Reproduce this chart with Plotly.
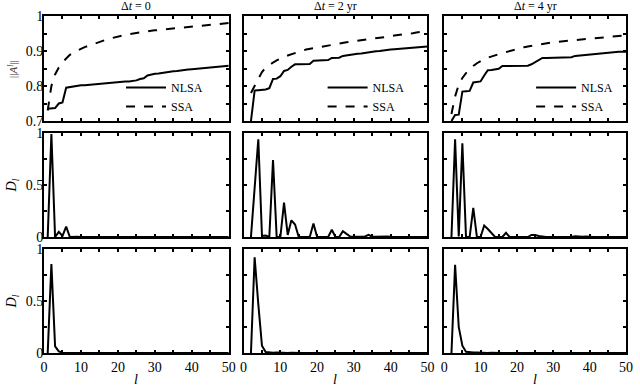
import plotly.graph_objects as go

# ---------------- data ----------------
l_vals = list(range(1, 51))
titles = ["Δ<i>t</i> = 0", "Δ<i>t</i> = 2 yr", "Δ<i>t</i> = 4 yr"]

nlsa_0 = [0.735, 0.737, 0.737, 0.750, 0.753, 0.795, 0.797, 0.799, 0.801, 0.802,
          0.802, 0.803, 0.805, 0.807, 0.808, 0.809, 0.810, 0.811, 0.811, 0.812,
          0.812, 0.813, 0.813, 0.814, 0.816, 0.820, 0.822, 0.830, 0.833, 0.835,
          0.836, 0.838, 0.839, 0.840, 0.842, 0.843, 0.845, 0.846, 0.847, 0.848,
          0.849, 0.850, 0.851, 0.852, 0.853, 0.854, 0.855, 0.856, 0.857, 0.858]
ssa_0 = [0.730, 0.800, 0.833, 0.853, 0.868, 0.880, 0.889, 0.896, 0.902, 0.906,
         0.911, 0.915, 0.919, 0.923, 0.927, 0.930, 0.933, 0.936, 0.939, 0.942,
         0.944, 0.946, 0.948, 0.950, 0.952, 0.953, 0.955, 0.956, 0.958, 0.959,
         0.960, 0.962, 0.963, 0.964, 0.966, 0.967, 0.968, 0.969, 0.970, 0.971,
         0.972, 0.973, 0.974, 0.974, 0.975, 0.976, 0.977, 0.978, 0.979, 0.980]

nlsa_2 = [None, 0.700, 0.787, 0.788, 0.789, 0.790, 0.794, 0.820, 0.821, 0.828,
          0.843, 0.846, 0.855, 0.862, 0.862, 0.862, 0.862, 0.863, 0.872, 0.872,
          0.873, 0.873, 0.874, 0.880, 0.880, 0.881, 0.886, 0.888, 0.889, 0.890,
          0.892, 0.893, 0.895, 0.896, 0.897, 0.899, 0.900, 0.902, 0.903, 0.904,
          0.905, 0.906, 0.907, 0.908, 0.909, 0.910, 0.911, 0.912, 0.913, 0.913]
ssa_2 = [None, 0.780, 0.800, 0.824, 0.840, 0.852, 0.860, 0.867, 0.873, 0.879,
         0.883, 0.887, 0.891, 0.894, 0.898, 0.901, 0.904, 0.906, 0.909, 0.911,
         0.913, 0.915, 0.917, 0.918, 0.920, 0.922, 0.923, 0.925, 0.926, 0.928,
         0.929, 0.931, 0.932, 0.934, 0.935, 0.936, 0.938, 0.939, 0.941, 0.942,
         0.944, 0.945, 0.947, 0.948, 0.950, 0.951, 0.953, 0.954, 0.956, 0.957]

nlsa_4 = [None, 0.700, 0.717, 0.718, 0.784, 0.785, 0.786, 0.810, 0.811, 0.813,
          0.830, 0.845, 0.846, 0.847, 0.849, 0.857, 0.857, 0.857, 0.858, 0.858,
          0.858, 0.858, 0.858, 0.862, 0.868, 0.875, 0.880, 0.880, 0.880, 0.880,
          0.880, 0.880, 0.880, 0.880, 0.882, 0.886, 0.887, 0.888, 0.889, 0.891,
          0.892, 0.894, 0.895, 0.896, 0.897, 0.898, 0.898, 0.898, 0.898, 0.898]
ssa_4 = [None, 0.720, 0.770, 0.804, 0.823, 0.837, 0.848, 0.857, 0.865, 0.872,
         0.877, 0.881, 0.885, 0.888, 0.891, 0.894, 0.897, 0.900, 0.904, 0.906,
         0.908, 0.911, 0.913, 0.915, 0.917, 0.919, 0.920, 0.922, 0.923, 0.925,
         0.926, 0.927, 0.928, 0.929, 0.930, 0.931, 0.933, 0.934, 0.935, 0.936,
         0.936, 0.937, 0.938, 0.939, 0.940, 0.941, 0.942, 0.943, 0.944, 0.945]

d_mid_0 = [0.0, 0.99, 0.0, 0.05, 0.01, 0.10, 0.0, 0.005, 0.003, 0.0,
           0.0, 0.0, 0.005, 0.003, 0.0, 0.0, 0.0, 0.0, 0.0, 0.0,
           0.0, 0.0, 0.0, 0.003, 0.005, 0.002, 0.0, 0.0, 0.0, 0.0,
           0.0, 0.0, 0.0, 0.0, 0.0, 0.0, 0.0, 0.0, 0.0, 0.0,
           0.0, 0.0, 0.0, 0.0, 0.0, 0.0, 0.0, 0.0, 0.0, 0.0]
d_mid_2 = [None, 0.0, 0.47, 0.94, 0.01, 0.015, 0.0, 0.74, 0.0, 0.0,
           0.33, 0.02, 0.16, 0.12, 0.0, 0.0, 0.0, 0.0, 0.13, 0.0,
           0.0, 0.0, 0.0, 0.07, 0.0, 0.0, 0.055, 0.03, 0.005, 0.002,
           0.002, 0.0, 0.005, 0.02, 0.003, 0.002, 0.003, 0.008, 0.005, 0.002,
           0.0, 0.0, 0.003, 0.0, 0.0, 0.0, 0.0, 0.0, 0.0, 0.0]
d_mid_4 = [None, 0.0, 0.94, 0.005, 0.90, 0.0, 0.0, 0.28, 0.0, 0.0,
           0.11, 0.077, 0.04, 0.0, 0.0, 0.0, 0.04, 0.0, 0.0, 0.0,
           0.0, 0.0, 0.0, 0.02, 0.02, 0.01, 0.003, 0.0, 0.0, 0.0,
           0.0, 0.0, 0.0, 0.0, 0.0, 0.008, 0.003, 0.002, 0.004, 0.0,
           0.0, 0.0, 0.0, 0.0, 0.0, 0.0, 0.0, 0.0, 0.0, 0.0]

d_bot_0 = [0.0, 0.856, 0.064, 0.016, 0.003, 0.0, 0.0, 0.0, 0.0, 0.0,
           0.0, 0.0, 0.0, 0.0, 0.0, 0.0, 0.0, 0.0, 0.0, 0.0,
           0.0, 0.0, 0.0, 0.0, 0.0, 0.0, 0.0, 0.0, 0.0, 0.0,
           0.0, 0.0, 0.0, 0.0, 0.0, 0.0, 0.0, 0.0, 0.0, 0.0,
           0.0, 0.0, 0.0, 0.0, 0.0, 0.0, 0.0, 0.0, 0.0, 0.0]
d_bot_2 = [None, 0.0, 0.92, 0.47, 0.07, 0.01, 0.003, 0.003, 0.006, 0.003,
           0.001, 0.001, 0.003, 0.0, 0.0, 0.0, 0.0, 0.0, 0.0, 0.0,
           0.0, 0.0, 0.0, 0.0, 0.0, 0.0, 0.0, 0.0, 0.0, 0.0,
           0.0, 0.0, 0.0, 0.0, 0.0, 0.0, 0.0, 0.0, 0.0, 0.0,
           0.0, 0.0, 0.0, 0.0, 0.0, 0.0, 0.0, 0.0, 0.0, 0.0]
d_bot_4 = [None, 0.0, 0.847, 0.25, 0.07, 0.012, 0.005, 0.005, 0.005, 0.002,
           0.0, 0.0, 0.003, 0.0, 0.0, 0.0, 0.0, 0.0, 0.0, 0.0,
           0.0, 0.0, 0.0, 0.0, 0.0, 0.0, 0.0, 0.0, 0.0, 0.0,
           0.0, 0.0, 0.0, 0.0, 0.0, 0.0, 0.0, 0.0, 0.0, 0.0,
           0.0, 0.0, 0.0, 0.0, 0.0, 0.0, 0.0, 0.0, 0.0, 0.0]

nlsa = [nlsa_0, nlsa_2, nlsa_4]
ssa = [ssa_0, ssa_2, ssa_4]
d_mid = [d_mid_0, d_mid_2, d_mid_4]
d_bot = [d_bot_0, d_bot_2, d_bot_4]

# ---------------- layout geometry ----------------
W, H = 640, 386
L, R, T, B = 44, 7, 16, 33
pw = W - L - R
ph = H - T - B
col_px = [(44, 231), (246, 432), (449, 633)]
row_px = [(16, 121), (133, 237), (249, 353)]

def xdom(c):
    a, b = col_px[c]
    return [(a - L) / pw, (b - L) / pw]

def ydom(r):
    a, b = row_px[r]
    return [(H - B - b) / ph, (H - B - a) / ph]

FONT = "Liberation Serif"
fig = go.Figure()
legend_names = ["legend", "legend2", "legend3"]

for r in range(3):
    for c in range(3):
        idx = r * 3 + c + 1
        xa = "x" if idx == 1 else f"x{idx}"
        ya = "y" if idx == 1 else f"y{idx}"
        if r == 0:
            fig.add_trace(go.Scatter(x=l_vals, y=nlsa[c], mode="lines", name="NLSA",
                                     line=dict(color="black", width=2),
                                     xaxis=xa, yaxis=ya, legend=legend_names[c],
                                     showlegend=True))
            fig.add_trace(go.Scatter(x=l_vals, y=ssa[c], mode="lines", name="SSA",
                                     line=dict(color="black", width=2, dash="dash"),
                                     xaxis=xa, yaxis=ya, legend=legend_names[c],
                                     showlegend=True))
        else:
            data = d_mid[c] if r == 1 else d_bot[c]
            fig.add_trace(go.Scatter(x=l_vals, y=data, mode="lines",
                                     line=dict(color="black", width=2),
                                     xaxis=xa, yaxis=ya, showlegend=False))

        xkey = "xaxis" if idx == 1 else f"xaxis{idx}"
        ykey = "yaxis" if idx == 1 else f"yaxis{idx}"
        fig.layout[xkey] = dict(
            domain=xdom(c), anchor=ya, range=[0, 50], dtick=10, tick0=0,
            showticklabels=(r == 2), ticks="inside", ticklen=3, tickwidth=1.5,
            tickcolor="black", minor=dict(dtick=5, ticks="inside", ticklen=3,
                                          tickwidth=1.5, tickcolor="black"),
            showline=True, linewidth=2, linecolor="black", mirror="allticks",
            showgrid=False, zeroline=False,
            tickfont=dict(family=FONT, size=14, color="black"))
        if r == 0:
            yr, ydt, ymdt = [0.7, 1.0], 0.1, 0.05
        else:
            yr, ydt, ymdt = [0, 1.0], 0.5, 0.25
        fig.layout[ykey] = dict(
            domain=ydom(r), anchor=xa, range=yr, dtick=ydt, tick0=0,
            showticklabels=(c == 0), ticks="inside", ticklen=3, tickwidth=1.5,
            tickcolor="black", minor=dict(dtick=ymdt, ticks="inside", ticklen=3,
                                          tickwidth=1.5, tickcolor="black"),
            showline=True, linewidth=2, linecolor="black", mirror="allticks",
            showgrid=False, zeroline=False, ticklabelstandoff=-4,
            tickfont=dict(family=FONT, size=14, color="black"))

# legends
leg_x = [(210 - L) / pw, (414 - L) / pw, (625 - L) / pw]
for c in range(3):
    fig.layout[legend_names[c]] = dict(
        x=leg_x[c], y=(H - B - 121) / ph, xanchor="right", yanchor="bottom",
        bgcolor="rgba(0,0,0,0)", borderwidth=0, itemwidth=40,
        font=dict(family=FONT, size=12, color="black"), tracegroupgap=0)

annotations = []
for c in range(3):
    d = xdom(c)
    annotations.append(dict(text=titles[c], x=(d[0] + d[1]) / 2, y=1.0, xref="paper",
                            yref="paper", xanchor="center", yanchor="bottom",
                            yshift=1, showarrow=False,
                            font=dict(family=FONT, size=12, color="black")))
    annotations.append(dict(text="<i>l</i>", x=(d[0] + d[1]) / 2, y=0, xref="paper",
                            yref="paper", xanchor="center", yanchor="top",
                            yshift=-17, showarrow=False,
                            font=dict(family=FONT, size=14, color="black")))
ylabels = ["||<i>A</i><sup><i>l</i></sup>||", "<i>D</i><sub><i>l</i></sub>",
           "<i>D</i><sub><i>l</i></sub>"]
for r in range(3):
    d = ydom(r)
    annotations.append(dict(text=ylabels[r], x=(12 - L) / pw, y=(d[0] + d[1]) / 2,
                            xref="paper", yref="paper", xanchor="center",
                            yanchor="middle", textangle=-90, showarrow=False,
                            font=dict(family=FONT, size=11 if r == 0 else 14,
                                      color="#333" if r == 0 else "black")))

fig.update_layout(width=W, height=H, margin=dict(l=L, r=R, t=T, b=B),
                  paper_bgcolor="white", plot_bgcolor="white",
                  annotations=annotations,
                  font=dict(family=FONT, color="black"))

fig.write_html("out.html", config={"displayModeBar": False},
               post_script="document.body.style.margin='0';document.body.style.overflow='hidden';")
